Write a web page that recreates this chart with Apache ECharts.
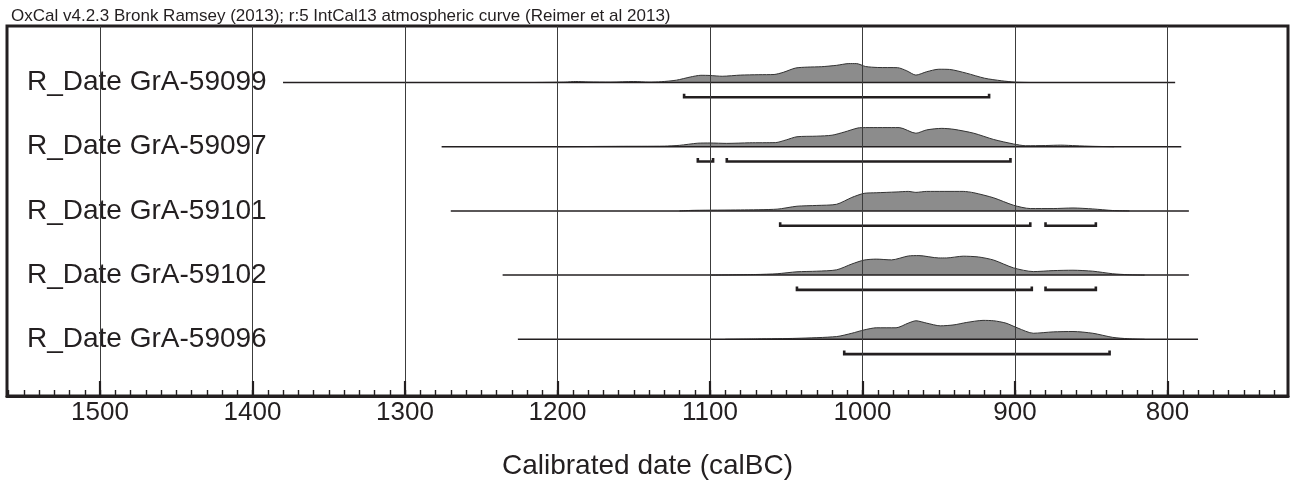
<!DOCTYPE html>
<html>
<head>
<meta charset="utf-8">
<script src="https://cdn.jsdelivr.net/npm/echarts@6/dist/echarts.min.js"></script>
<style>
html,body{margin:0;padding:0;background:#fff;}
#chart{width:1290px;height:488px;}
</style>
</head>
<body>
<div id="chart"></div>
<script>
// ---------- data ----------
const titleText = 'OxCal v4.2.3 Bronk Ramsey (2013); r:5 IntCal13 atmospheric curve (Reimer et al 2013)';
const axisTitle = 'Calibrated date (calBC)';
const majorTickValues = [1500, 1400, 1300, 1200, 1100, 1000, 900, 800];
const axisMin = 721;
const axisMax = 1561;

const sampleNames = ['R_Date GrA-59099', 'R_Date GrA-59097', 'R_Date GrA-59101', 'R_Date GrA-59102', 'R_Date GrA-59096'];
const spanStart = [1380, 1276, 1270, 1236, 1226];
const spanEnd = [795, 791, 786, 786, 780];

const density59099 = [[1215,0],[1195,0.02],[1188,0.05],[1180,0.03],[1165,0.02],[1150,0.05],[1140,0.02],[1132,0.04],[1122,0.12],[1113,0.28],[1106,0.37],[1100,0.36],[1092,0.32],[1080,0.38],[1068,0.40],[1058,0.41],[1052,0.52],[1044,0.74],[1036,0.79],[1027,0.81],[1017,0.88],[1009,0.97],[1004,0.97],[998,0.82],[990,0.77],[977,0.76],[971,0.6],[965,0.38],[958,0.55],[950,0.68],[943,0.67],[932,0.48],[920,0.22],[909,0.09],[900,0.02],[890,0]];
const density59097 = [[1200,0],[1160,0.02],[1130,0.03],[1120,0.07],[1108,0.18],[1100,0.19],[1089,0.17],[1074,0.20],[1057,0.21],[1050,0.35],[1043,0.51],[1030,0.54],[1020,0.59],[1012,0.75],[1003,0.96],[998,0.98],[976,0.98],[965,0.69],[958,0.86],[948,0.94],[940,0.89],[927,0.69],[914,0.37],[901,0.14],[893,0.05],[880,0.06],[870,0.08],[860,0.05],[849,0.02],[835,0]];
const density59101 = [[1120,0],[1110,0.03],[1080,0.05],[1056,0.09],[1043,0.24],[1030,0.28],[1017,0.34],[1007,0.69],[999,0.9],[991,0.93],[978,0.97],[970,1.0],[965,0.95],[958,1.0],[934,1.0],[927,0.93],[914,0.67],[901,0.29],[890,0.12],[875,0.12],[862,0.15],[849,0.10],[836,0.02],[825,0]];
const density59102 = [[1100,0],[1070,0.03],[1056,0.07],[1043,0.17],[1030,0.2],[1017,0.27],[1007,0.57],[999,0.77],[991,0.82],[981,0.78],[970,0.98],[963,1.0],[950,0.88],[945,0.88],[934,0.97],[924,0.93],[914,0.77],[901,0.37],[888,0.18],[875,0.23],[862,0.25],[849,0.2],[836,0.07],[826,0.02],[815,0]];
const density59096 = [[1090,0],[1069,0.02],[1043,0.05],[1017,0.14],[1007,0.31],[999,0.48],[991,0.59],[978,0.59],[970,0.83],[965,0.95],[958,0.83],[949,0.69],[940,0.74],[932,0.86],[921,0.97],[914,0.95],[906,0.83],[898,0.57],[888,0.31],[875,0.38],[862,0.40],[849,0.31],[836,0.10],[826,0.03],[815,0]];

const ranges59099 = [[1117, 917]];
const ranges59097 = [[1108, 1098], [1089, 903]];
const ranges59101 = [[1054, 890], [880, 847]];
const ranges59102 = [[1043, 889], [880, 847]];
const ranges59096 = [[1012, 838]];

const densities = [density59099, density59097, density59101, density59102, density59096];
const ranges = [ranges59099, ranges59097, ranges59101, ranges59102, ranges59096];

// ---------- layout ----------
const INK = '#231f20';
const FONT = 'Liberation Sans, Arial, Helvetica, sans-serif';
const plotLeft = 7, plotTop = 26, plotWidth = 1281, plotHeight = 370;
const rowBase0 = 82.5, rowStep = 64.2, unitPx = 19.5;
const yMin = -1, yMax = 1.2;

const minorTickValues = [];
for (let v = 730; v <= 1560; v += 10) minorTickValues.push(v);

const grids = [{left: plotLeft, top: plotTop, width: plotWidth, height: plotHeight,
  show: true, borderColor: INK, borderWidth: 3}];
const xAxes = [
  {gridIndex: 0, type: 'value', min: axisMin, max: axisMax, inverse: true, position: 'bottom', z: 5,
   axisLine: {show: true, onZero: false, lineStyle: {color: INK, width: 3}},
   axisTick: {show: true, inside: true, length: 6, customValues: minorTickValues, lineStyle: {color: INK, width: 1.4}},
   axisLabel: {show: false}, splitLine: {show: false}},
  {gridIndex: 0, type: 'value', min: axisMin, max: axisMax, inverse: true, position: 'bottom', z: 5,
   axisLine: {show: false, onZero: false},
   axisTick: {show: true, inside: true, length: 15, customValues: majorTickValues, lineStyle: {color: INK, width: 2.2}},
   axisLabel: {show: true, customValues: majorTickValues, margin: 4, fontSize: 26, color: INK, fontFamily: FONT,
     formatter: v => String(v)},
   splitLine: {show: true, lineStyle: {color: '#3c3c3c', width: 1}},
   name: axisTitle, nameLocation: 'middle', nameGap: 56,
   nameTextStyle: {fontSize: 28, color: INK, fontFamily: FONT}}
];
const yAxes = [{gridIndex: 0, type: 'value', min: 0, max: 1, show: false}];
const series = [];

sampleNames.forEach((name, i) => {
  const base = rowBase0 + rowStep * i;
  grids.push({left: plotLeft, width: plotWidth, top: base - yMax * unitPx, height: (yMax - yMin) * unitPx, show: false});
  xAxes.push({gridIndex: i + 1, type: 'value', min: axisMin, max: axisMax, inverse: true, show: false});
  yAxes.push({gridIndex: i + 1, type: 'value', min: yMin, max: yMax,
    axisLine: {show: false}, axisTick: {show: false}, splitLine: {show: false},
    axisLabel: {show: true, customValues: [0], inside: true, margin: 20, fontSize: 28, color: INK, fontFamily: FONT,
      formatter: () => name}});
  const xi = xAxes.length - 1, yi = yAxes.length - 1;
  series.push({type: 'line', xAxisIndex: xi, yAxisIndex: yi, data: densities[i], smooth: 0.25,
    symbol: 'none', z: 1, silent: true,
    lineStyle: {color: '#333', width: 1}, areaStyle: {color: '#8c8c8c', opacity: 1}});
  series.push({type: 'line', xAxisIndex: xi, yAxisIndex: yi, data: [[spanStart[i], 0], [spanEnd[i], 0]],
    symbol: 'none', z: 3, silent: true, lineStyle: {color: INK, width: 1.5}});
  series.push({type: 'custom', xAxisIndex: xi, yAxisIndex: yi, data: ranges[i], z: 3, silent: true,
    renderItem: (params, api) => {
      const a = api.coord([api.value(0), -0.76]);
      const b = api.coord([api.value(1), -0.76]);
      const a2 = api.coord([api.value(0), -0.58]);
      const b2 = api.coord([api.value(1), -0.58]);
      return {type: 'polyline', shape: {points: [a2, a, b, b2]},
        style: {stroke: INK, lineWidth: 2.6, fill: null}};
    }});
});

const chart = echarts.init(document.getElementById('chart'), null, {renderer: 'canvas'});
chart.setOption({
  backgroundColor: '#fff',
  animation: false,
  title: {text: titleText, left: 6, top: 3,
    textStyle: {fontSize: 17, fontWeight: 'normal', color: INK, fontFamily: FONT}},
  grid: grids,
  xAxis: xAxes,
  yAxis: yAxes,
  series: series
});
</script>
</body>
</html>
